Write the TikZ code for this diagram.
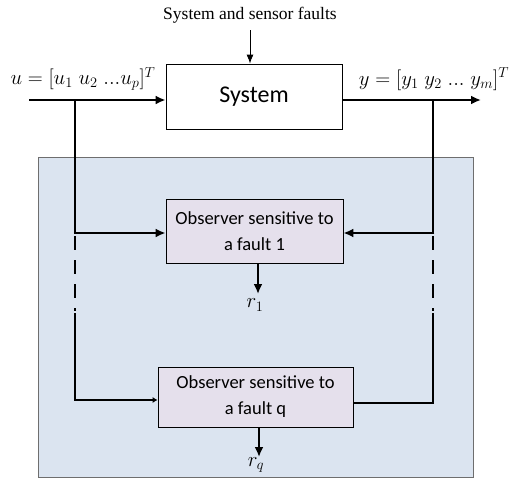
\documentclass[tikz,border=0pt]{standalone}
\usepackage{fontspec}
\setmainfont{Liberation Serif}
\newfontfamily\calibrifont{Carlito}
\usetikzlibrary{arrows.meta}
\definecolor{panelblue}{RGB}{219,228,240}
\definecolor{paneledge}{RGB}{110,110,110}
\definecolor{obsfill}{RGB}{229,224,236}
\tikzset{
  sig/.style={line width=2.5pt},
  sigarrow/.style={sig,-{Latex[length=10pt,width=9pt]}},
  thinarrow/.style={line width=0.9pt,-{Latex[length=9pt,width=7pt]}},
  block/.style={draw=black,line width=0.8pt,align=center,inner sep=0pt},
  obsbox/.style={block,fill=obsfill,font=\calibrifont\fontsize{18.5}{26}\selectfont},
  mathlabel/.style={font=\fontsize{19.5}{22}\selectfont,inner sep=0pt},
  dashline/.style={sig,dash pattern=on 14pt off 10pt}
}
\begin{document}
\begin{tikzpicture}[x=1pt,y=-1pt]
\useasboundingbox (0,0) rectangle (509,479);

% observer bank panel
\draw[fill=panelblue,draw=paneledge,line width=1pt] (38,157) rectangle (473,477);

% plant
\node[block,fill=white,minimum width=176pt,minimum height=65pt,
      font=\calibrifont\fontsize{24}{26}\selectfont] (sys) at (254,96.5) {System};
\node[inner sep=0pt,font=\fontsize{17.5}{20}\selectfont] (faults) at (250,15) {System and sensor faults};
\coordinate (fin) at (250,30);
\draw[thinarrow] (fin) -- (fin |- sys.north);

% input and output signals
\coordinate (uin) at (29,100);
\coordinate (yout) at (481,100);
\coordinate (uj) at (75,100);
\coordinate (yj) at (433,100);
\draw[sigarrow] (uin) -- (sys.west |- uin);
\draw[sigarrow] (sys.east |- yout) -- (yout);
\node[mathlabel] (ulab) at (83,79) {$u=[u_1\;u_2\;...u_p]^T$};
\node[mathlabel] (ylab) at (434,79) {$y=[y_1\;y_2\;...\;y_m]^T$};

% observers
\node[obsbox,minimum width=177pt,minimum height=64pt] (obs1) at (254.5,231)
  {Observer sensitive to\\a fault 1};
\node[obsbox,minimum width=195pt,minimum height=60pt] (obs2) at (255.5,397)
  {Observer sensitive to\\a fault q};

% feeds to the first observer
\coordinate (l1) at (75,233);
\coordinate (rr1) at (433,233);
\draw[sig] (uj) -- (l1);
\draw[sigarrow] ([xshift=-1.25pt]l1) -- (obs1.west |- l1);
\draw[sig] (yj) -- (rr1);
\draw[sigarrow] ([xshift=1.25pt]rr1) -- (obs1.east |- rr1);

% omitted observers
\coordinate (ld0) at (75,236);
\coordinate (ld1) at (75,311);
\coordinate (rd0) at (433,236);
\coordinate (rd1) at (433,311);
\draw[dashline] (ld0) -- (ld1);
\draw[dashline] (rd0) -- (rd1);

% feeds to the last observer
\coordinate (ls) at (75,313);
\coordinate (l2) at (75,400);
\coordinate (rs) at (433,313);
\coordinate (rr2) at (433,403);
\draw[sig,-{Latex[length=5pt,width=6pt]}] (ls) -- (l2) -- (obs2.west |- l2);
\draw[sig] (rs) -- (rr2) -- (obs2.east |- rr2);

% residuals
\coordinate (r1end) at (258,294);
\coordinate (rqend) at (259,457);
\draw[sigarrow] (obs1.south -| r1end) -- (r1end);
\draw[sigarrow] (obs2.south -| rqend) -- (rqend);
\node[mathlabel] (r1lab) at (255,305) {$r_1$};
\node[mathlabel] (rqlab) at (256,465) {$r_q$};
\end{tikzpicture}
\end{document}
